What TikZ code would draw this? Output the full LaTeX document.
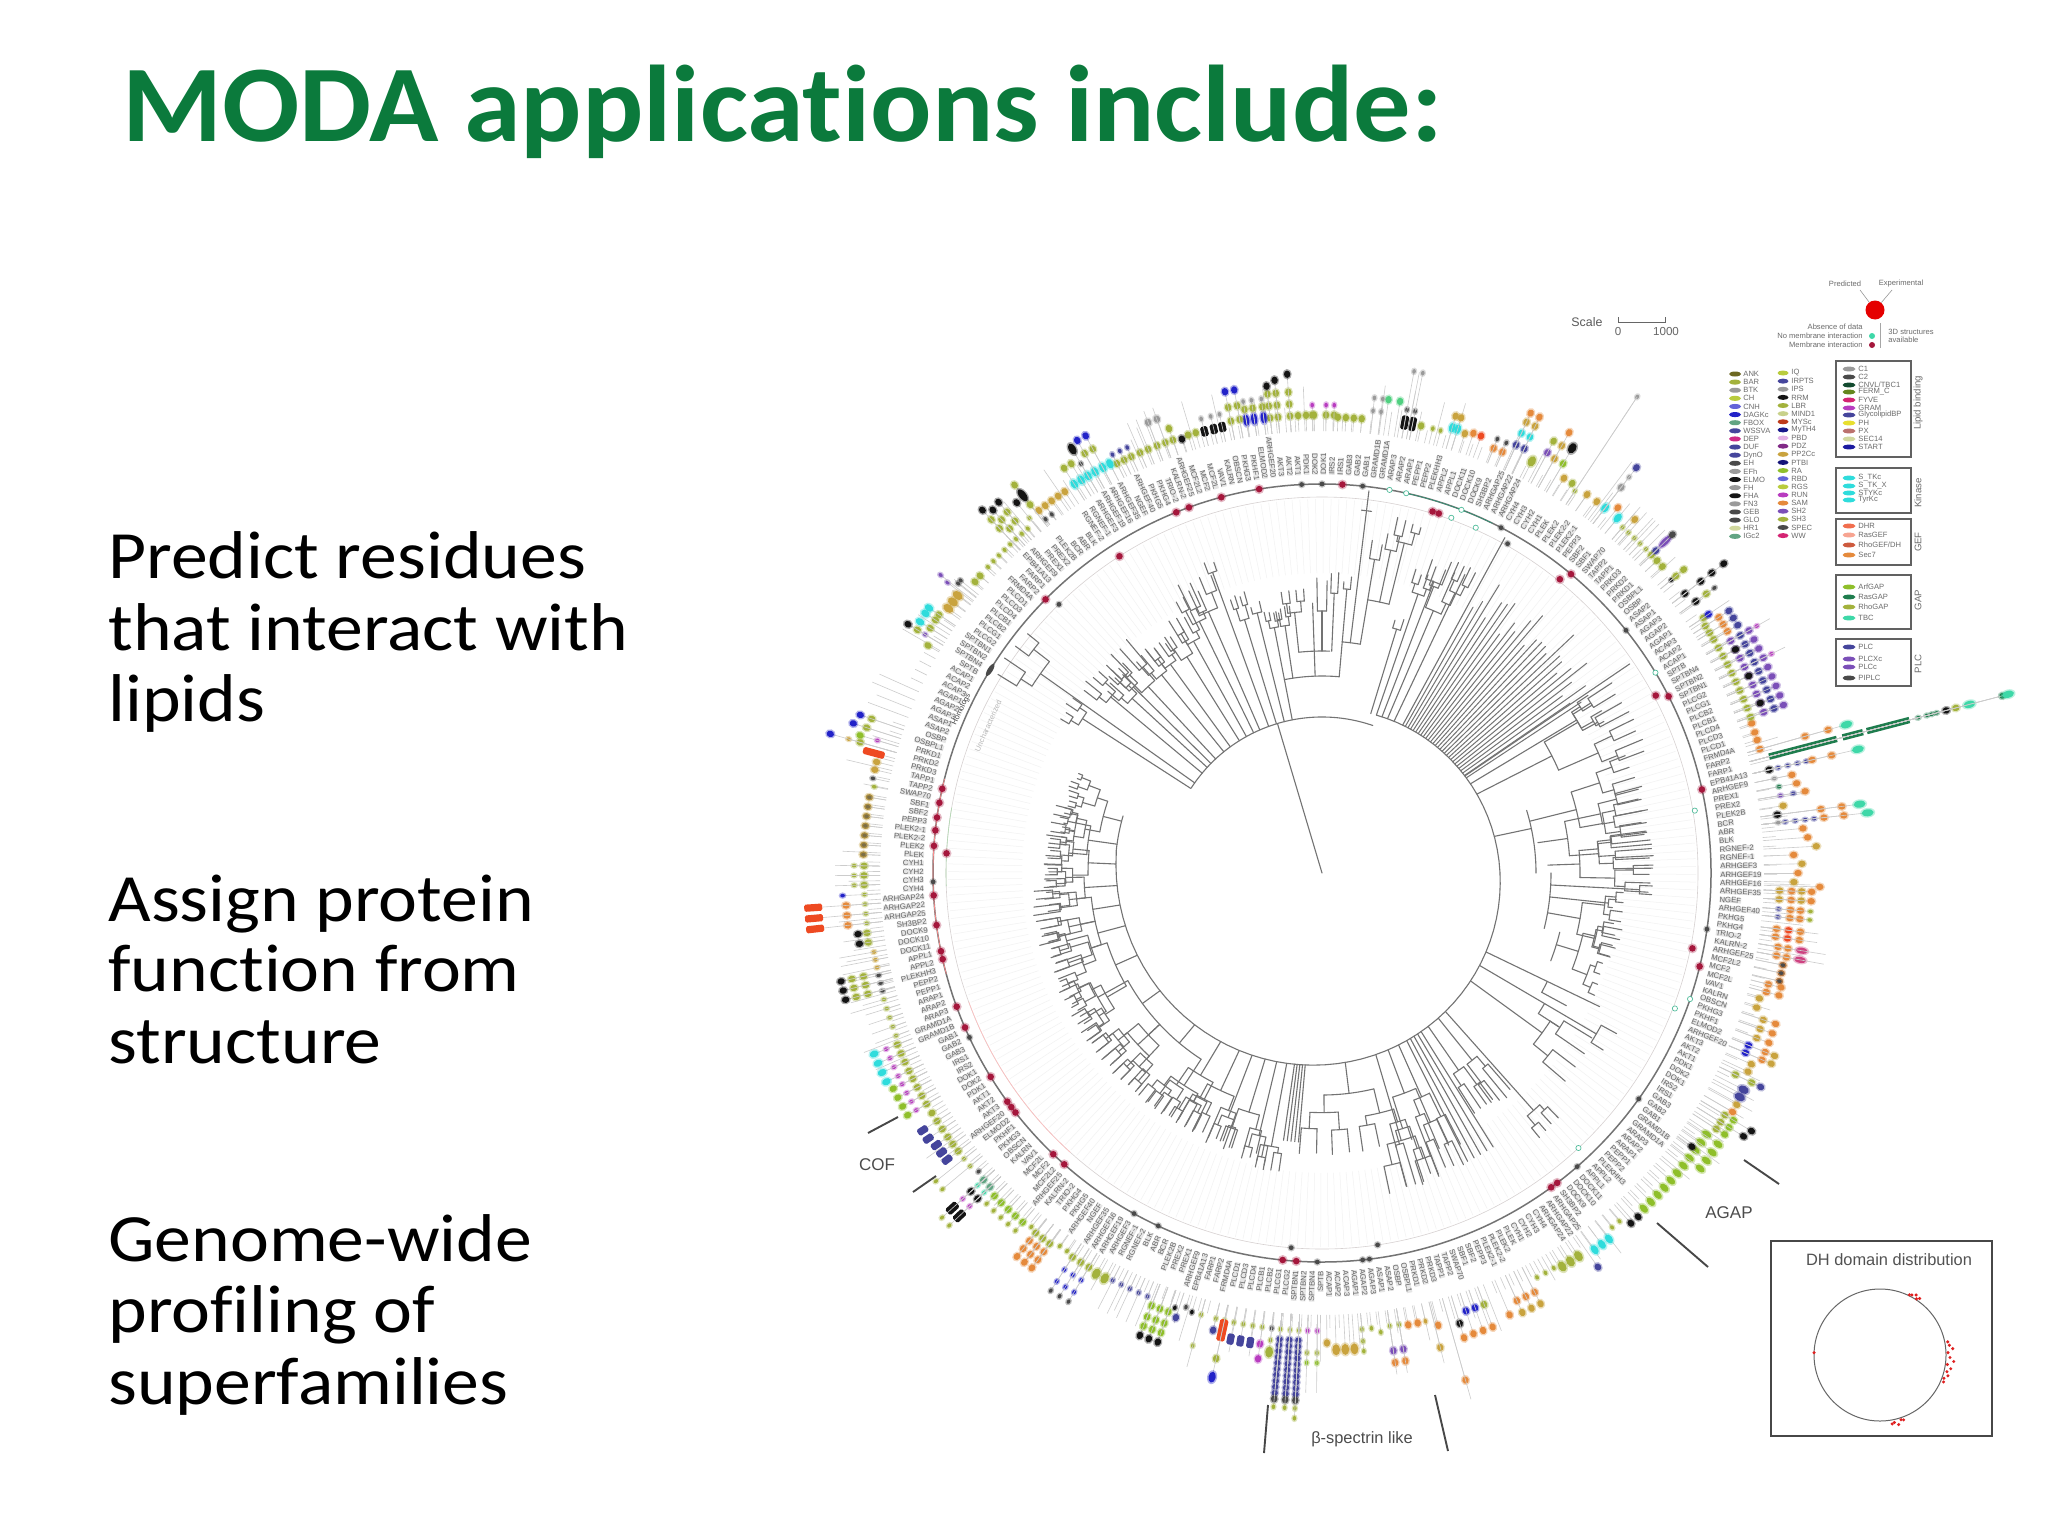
\documentclass[tikz,border=0pt]{standalone}
\usepackage{fontspec}
\setmainfont[Ligatures=NoCommon]{Carlito}
\newfontfamily\bodyf[Ligatures=NoCommon,FakeStretch=1.09]{Carlito}
\newfontfamily\titlef[Ligatures=NoCommon,FakeStretch=1.05]{Carlito}
\newfontfamily\lsans{Liberation Sans}
\usetikzlibrary{calc}
\definecolor{titlegreen}{HTML}{0B7A3C}
\definecolor{ol}{HTML}{A3B23C}\definecolor{yg}{HTML}{B9CC3E}\definecolor{tn}{HTML}{C9A33E}
\definecolor{org}{HTML}{E58A3C}\definecolor{rd}{HTML}{EE4A22}\definecolor{blk}{HTML}{141414}
\definecolor{blu}{HTML}{2222C8}\definecolor{nav}{HTML}{45459C}\definecolor{cy}{HTML}{2FDCDC}
\definecolor{tl}{HTML}{3ED8A8}\definecolor{grn}{HTML}{1F7D4E}\definecolor{bgr}{HTML}{8FBF2A}
\definecolor{mg}{HTML}{B83CC0}\definecolor{gry}{HTML}{9A9A9A}\definecolor{dkg}{HTML}{4A4A4A}
\definecolor{pur}{HTML}{7B4FB8}\definecolor{crim}{HTML}{A5173C}\definecolor{lgrn}{HTML}{50D080}
\tikzset{
 tr/.style={draw=black!55,line width=.55pt,line cap=round},
 stemln/.style={draw=black!20,line width=.3pt},
 body/.style={anchor=base west,inner sep=0,font=\bodyf\fontsize{33.8}{34}\selectfont},
 lab/.style={inner sep=0,font=\lsans\fontsize{3.9}{4}\selectfont,text=black!60,fill=black,fill opacity=.1,text opacity=1},
 leg/.style={inner sep=0,anchor=west,font=\lsans\fontsize{3.8}{4}\selectfont,text=black!58},
 big/.style={inner sep=0,font=\lsans\fontsize{8.5}{9}\selectfont,text=black!70},
 legbox/.style={draw=black!62,line width=1pt},
}
\newcommand\tarc[3]{\draw[tr] (#1:#3) arc[start angle=#1,end angle=#2,radius=#3];}
\newcommand\tln[3]{\draw[tr] (#1:#2)--(#1:#3);}
\def\clade#1#2#3#4#5{\begingroup
 \pgfmathsetmacro\cTa{#1-(#2)/2}\pgfmathsetmacro\cTb{#1+(#2)/2}
 \tarc{\cTa}{\cTb}{#3}
 \ifnum#4>0
  \pgfmathsetmacro\cRa{#3+(#5-#3)*(.22+.3*rnd)}\pgfmathsetmacro\cRb{#3+(#5-#3)*(.22+.3*rnd)}
  \pgfmathsetmacro\cSp{(#2)*.52}\pgfmathtruncatemacro\cD{#4-1}
  \tln{\cTa}{#3}{\cRa}\tln{\cTb}{#3}{\cRb}
  \edef\cNext{\noexpand\clade{\cTa}{\cSp}{\cRa}{\cD}{#5}\noexpand\clade{\cTb}{\cSp}{\cRb}{\cD}{#5}}\cNext
 \else
  \pgfmathsetmacro\cRa{#5-rnd*6}\pgfmathsetmacro\cRb{#5-rnd*6}
  \tln{\cTa}{#3}{\cRa}\tln{\cTb}{#3}{\cRb}
 \fi\endgroup}
\newcommand\br[6]{\tln{#1}{#2}{#3}\ifnum#5>-1 \clade{#1}{#4}{#3}{#5}{#6}\fi}
\newcommand\brs[5]{\pgfmathsetmacro\sB{167+.155*(#1-289)}\edef\sBB{\sB}\br{#1}{\sBB}{#2}{#3}{#4}{#5}}
\newcommand\Bl[5]{\draw[stemln] (#1:442)--(#1:#2);
 \fill[#3,opacity=.35,rotate=-(#1)] (#2,0) ellipse[x radius=#4+1.6,y radius=#5+1.4];
 \fill[#3,rotate=-(#1)] (#2,0) ellipse[x radius=#4,y radius=#5];}
\newcommand\Bar[5]{\draw[stemln] (#1:442)--(#1:#2);
 \fill[#3,rotate=-(#1),rounded corners=.8pt] ({#2-(#4)},{-(#5)}) rectangle ({#2+(#4)},{#5});}
\newcommand\B[3]{\Bl{#1}{#2}{#3}{3.7}{3.2}}
\newcommand\Bb[3]{\Bl{#1}{#2}{#3}{5.5}{3.9}}
\newcommand\Bs[3]{\Bl{#1}{#2}{#3}{2.3}{1.8}}
\newcommand\St[2]{\draw[stemln] (#1:442)--(#1:#2);}
\newcommand\Rd[3]{\fill[#3,opacity=.3] (#1:#2) circle (5);\fill[#3] (#1:#2) circle (3.3);}
\newcommand\Rg[3]{\fill[#3,opacity=.3] (#1:#2) circle (3.8);\fill[#3] (#1:#2) circle (2.4);}
\newcommand\Rh[2]{\draw[tl!70!gray,line width=.35pt,fill=white] (#1:#2) circle (2.6);}
\begin{document}
\begin{tikzpicture}[x=.5pt,y=-.5pt]
\useasboundingbox (0,0) rectangle (2048,1536);
\fill[white] (0,0) rectangle (2048,1536);
\node[anchor=base west,inner sep=0,text=titlegreen,font=\titlef\fontsize{54.5}{55}\selectfont\bfseries] (title) at (122,141) {MODA applications include:};
\node[body] (p1a) at (108,578) {Predict residues};
\node[body] (p1b) at (108,650) {that interact with};
\node[body] (p1c) at (108,721) {lipids};
\node[body] (p2a) at (108,921) {Assign protein};
\node[body] (p2b) at (108,991) {function from};
\node[body] (p2c) at (108,1063) {structure};
\node[body] (p3a) at (108,1261) {Genome-wide};
\node[body] (p3b) at (108,1332) {profiling of};
\node[body] (p3c) at (108,1404) {superfamilies};
\begin{scope}[shift={(1322,873)}]
\pgfmathsetseed{4211}
\foreach \rep in {0,1,2}{
\foreach \nm [count=\ii from 0] in {PRKD1,PRKD2,PRKD3,TAPP1,TAPP2,SWAP70,SBF1,SBF2,PEPP3,PLEK2-1,PLEK2-2,PLEK2,PLEK,CYH1,CYH2,CYH3,CYH4,ARHGAP24,ARHGAP22,ARHGAP25,SH3BP2,DOCK9,DOCK10,DOCK11,APPL1,APPL2,PLEKHH3,PEPP2,PEPP1,ARAP1,ARAP2,ARAP3,GRAMD1A,GRAMD1B,GAB1,GAB2,GAB3,IRS1,IRS2,DOK1,DOK2,PDK1,AKT1,AKT2,AKT3,ARHGEF20,ELMOD2,PKHF1,PKHG3,OBSCN,KALRN,VAV1,MCF2L,MCF2,MCF2L2,ARHGEF25,KALRN-2,TRIO-2,PKHG4,PKHG5,ARHGEF40,NGEF,ARHGEF35,ARHGEF16,ARHGEF19,ARHGEF3,RGNEF-1,RGNEF-2,BLK,ABR,BCR,PLEK2B,PREX2,PREX1,ARHGEF9,EPB41A13,FARP1,FARP2,FRMD4A,PLCD1,PLCD3,PLCD4,PLCB1,PLCB2,PLCG1,PLCG2,SPTBN1,SPTBN2,SPTBN4,SPTB,ACAP1,ACAP2,ACAP3,AGAP1,AGAP2,AGAP3,ASAP1,ASAP2,OSBP,OSBPL1}{
 \pgfmathsetmacro\th{197-1.2*(\ii+100*\rep)}
 \draw[draw=black!5,line width=.25pt] (\th:300)--(\th:374);
 \draw[stemln] (\th:442)--(\th:455);
 \pgfmathparse{rnd>.62?1:0}\ifnum\pgfmathresult=1 \pgfmathsetmacro\rq{465+rnd*28}\draw[stemln] (\th:455)--(\th:\rq);\fi
 \pgfmathparse{(\th>90 || \th<-90)?1:0}
 \ifnum\pgfmathresult=1
  \pgfmathsetmacro\rt{180-\th}\node[lab,rotate=\rt,anchor=east] (l\rep-\ii) at (\th:398) {\nm};
 \else
  \pgfmathsetmacro\rt{-\th}\node[lab,rotate=\rt,anchor=west] (l\rep-\ii) at (\th:398) {\nm};
 \fi
}}
\draw[draw=black!55,line width=.75pt] (0,0) circle (389);
\draw[draw=red!12!black!18,line width=.3pt] (0,0) circle (376);
\draw[draw=red!45,line width=.35pt] (165:389) arc[start angle=165,end angle=194,radius=389];
\draw[draw=green!50!black!30,line width=.3pt] (178:376) arc[start angle=178,end angle=190,radius=376];
\draw[draw=red!25,line width=.3pt] (132:376) arc[start angle=132,end angle=160,radius=376];
\draw[draw=tl!70!black,line width=.3pt] (282:389) arc[start angle=282,end angle=296,radius=389];
\node[inner sep=0,rotate=65,font=\lsans\fontsize{3.8}{4}\selectfont,text=black!75] (ringa) at (204.4:396) {Homologs};
\node[inner sep=0,rotate=66,font=\lsans\fontsize{3.8}{4}\selectfont,text=black!28] (ringb) at (203.8:365) {Uncharacterized};
\foreach \a/\r in {192.5/389,190.4/389,188.2/389,186.3/389,184/389,183/376,176.7/389,172.3/389,168.4/389,167.2/389,159.9/389,156.6/389,148.4/389,144/389,143/389,142/389,133.7/389,131.5/389,95.8/389,93.8/389,53.9/389,52.8/389,11.5/378,13.9/389,-12.4/389,-27/389,-28/378,-50.2/389,-51/378,-73/378,-72/378,237.4/376,224.7/389,248/389,250/389,255/389,260.7/389,273/389}{\Rd{\a}{\r}{crim}}
\foreach \a/\r in {178.7/389,155/389,118.9/389,114.9/389,94.7/376,90.7/389,84/389,83/389,81.5/376,8.3/389,35.5/389,-62.6/389,-60.6/378,-38.6/389,267/389,270/389,276/389,225.6/376,49/389}{\Rg{\a}{\r}{dkg}}
\foreach \a/\r in {-9.5/378,-31/389,18.9/389,21/378,47/376,-77.5/389,-80/389,-70/378,-69/389,-66/378}{\Rh{\a}{\r}}
\fill[dkg,rotate=-212.5] (389,-7) ellipse[x radius=2.5,y radius=7];
% tree
\pgfmathsetseed{77}
\coordinate (tc) at (0,0);
\draw[tr] (tc)--(253.4:156);
\tarc{213}{289}{156}
\draw[tr] plot[domain=289:546,samples=70,variable=\x] (\x:{167+.155*(\x-289)});
\br{212.8}{156}{285}{3}{1}{307}
\br{215.3}{156}{345}{5}{1}{384}
\br{219.8}{156}{275}{3}{1}{305}
\br{222.6}{156}{258}{3}{1}{285}
\br{224.6}{156}{265}{2.5}{1}{292}
\br{227}{156}{255}{4}{1}{305}
\br{231}{156}{255}{3}{1}{285}
\br{234}{156}{258}{3}{1}{286}
\br{238}{156}{255}{3}{1}{282}
\br{241}{156}{265}{3}{1}{295}
\br{244}{156}{280}{3}{1}{312}
\br{246.5}{156}{285}{4}{1}{322}
\br{250}{156}{320}{1.6}{0}{332}
\br{253}{156}{265}{2}{1}{293}
\br{256}{156}{268}{2}{0}{280}
\tln{259}{156}{197}
\tarc{259}{275}{197}
\br{259}{197}{250}{2}{1}{268}
\br{261.5}{197}{250}{2}{1}{270}
\tln{268}{197}{222}\tarc{264}{272}{222}
\br{264}{222}{262}{3}{1}{288}
\br{268}{222}{270}{0}{-1}{300}
\br{270}{222}{262}{2}{0}{298}
\br{272.5}{222}{280}{1.4}{0}{302}
\tln{275}{197}{232}\tarc{275}{279.5}{232}
\br{275}{232}{285}{1.4}{0}{298}
\tln{277}{232}{385}\tarc{276.2}{277.8}{365}
\tln{279.5}{232}{277}\tarc{279.5}{284}{277}
\br{279.5}{277}{318}{1.8}{0}{338}
\br{282}{277}{330}{2}{0}{348}
\br{284}{277}{340}{2.6}{1}{364}
\brs{287}{255}{1.8}{0}{268}
\brs{289}{295}{2.4}{1}{318}
\brs{291}{312}{3.2}{0}{338}
\brs{293}{285}{3.4}{1}{332}
\brs{295.4}{310}{2.2}{1}{340}
\brs{298.6}{382}{0}{-1}{382}
\foreach \t in {299.6,300.6,...,327.5}{\pgfmathsetmacro\rt{297+rnd*52}\pgfmathsetmacro\rb{167+.155*(\t-289)}\draw[tr,line width=.5pt] (\t:\rb)--(\t:\rt);}
\brs{325.8}{372}{0}{-1}{372}
\brs{329}{297}{3.6}{1}{324}
\brs{333}{258}{7}{2}{348}
\tarc{343}{360}{214}\tarc{0}{14}{229}\tarc{14}{21}{245}
\brs{348}{214}{0}{-1}{214}
\br{346}{214}{262}{8}{2}{328}
\br{352}{218}{248}{8}{2}{332}
\br{358}{226}{258}{6}{2}{332}
\br{3}{229}{318}{1.5}{0}{332}
\br{6}{229}{288}{1.6}{0}{298}
\br{10}{229}{262}{7}{2}{306}
\br{17}{245}{268}{8}{2}{300}
\brs{385.7}{308}{0}{-1}{308}\tarc{385.7}{388.5}{250}\tln{388.5}{250}{278}
\brs{390.4}{318}{3.6}{0}{336}\tarc{390.4}{393}{258}\tln{393}{258}{282}
\brs{396}{272}{6}{1}{322}
\brs{408.3}{318}{3}{1}{345}
\brs{411.3}{240}{3}{1}{291}
\brs{415.3}{240}{3}{1}{288}
\foreach \t in {418,419.3,420.6,421.9,423.2}{\brs{\t}{323}{0}{-1}{323}}
\brs{426}{245}{4}{1}{305}
\brs{429.5}{235}{6}{2}{325}
\brs{433.5}{279}{6}{1}{330}
\brs{443}{222}{13}{2}{285}
\foreach \t in {455,455.8,456.6,457.4,458.2}{\brs{\t}{270}{0}{-1}{270}}
\brs{460.5}{278}{3}{1}{303}
\brs{463.5}{270}{3}{1}{298}
\brs{467}{250}{5}{1}{292}
\brs{471}{262}{3}{1}{290}
\brs{475}{240}{7}{1}{294}
\brs{481}{236}{7}{2}{290}
\brs{490}{222}{14}{3}{290}
\brs{504}{222}{14}{3}{289}
\brs{516}{226}{12}{3}{286}
\brs{525}{232}{6}{2}{284}
\brs{531}{232}{6}{2}{292}
\brs{536.5}{238}{5}{2}{280}
\brs{542.5}{234}{6}{2}{278}
\tarc{186}{196}{207}
\br{188}{207}{236}{7}{2}{278}
\br{194.5}{207}{226}{8}{3}{268}
% beads
\B{198.9}{476}{ol}\B{198.9}{488}{blu}\B{197.7}{478}{ol}\B{197.7}{492}{blu}
\Bs{196.6}{464}{mg}\B{196.6}{482}{bgr}\B{195.8}{480}{ol}\Bs{195.8}{492}{tn}\B{195.8}{511}{blu}
\Bar{195}{464}{rd}{11}{3.6}
\B{194}{459}{tn}\B{193}{459}{tn}\Bs{191.9}{459}{dkg}\Bs{190.9}{456}{ol}
\foreach \t in {189.5,188.3,187.1,185.9,184.7,183.5,182.3}{\B{\t}{459}{tn}\Bs{\t}{459}{dkg!60!tn}}
\foreach \t in {180.9,179.7,178.5}{\B{\t}{458}{ol}\Bs{\t}{468}{ol}\St{\t}{487}}
\Bs{177.3}{458}{ol}\Bs{177.3}{480}{blu}
\foreach \t in {176.1,174.9,173.7}{\Bs{\t}{458}{ol}\B{\t}{477}{org}\Bar{\t}{510}{rd}{9}{3.6}}
\foreach \t in {172.5,171.3}{\B{\t}{459}{ol}\B{\t}{468}{blk}}
\foreach \t in {170,169,168}{\Bs{\t}{455}{tn}\St{\t}{490}}
\foreach \t in {167,166,165}{\Bs{\t}{455}{dkg}}
\foreach \t in {167.3,166.2,165.1}{\B{\t}{470}{ol}\B{\t}{482}{ol}\B{\t}{493}{blk}}
\foreach \t in {163.9,162.7,161.5,160.3,159.1}{\Bs{\t}{456}{ol}\St{\t}{478}}
\foreach \t in {158,156.8,155.6,154.4}{\B{\t}{458}{ol}\Bs{\t}{470}{mg}\Bl{\t}{483}{cy}{4.5}{3.4}}
\foreach \t in {153.3,152.1,150.9,149.7}{\B{\t}{458}{ol}\Bs{\t}{470}{mg}\B{\t}{480}{bgr}}
\B{148.4}{458}{ol}\foreach \t in {147.2,146}{\B{\t}{458}{ol}\Bar{\t}{475}{nav}{5.5}{3.6}}
\foreach \t in {144.8,143.7,142.6}{\B{\t}{458}{ol}\Bar{\t}{472}{nav}{5.5}{3.6}}
\foreach \t in {141.4,140.2}{\Bs{\t}{458}{ol}\Bs{\t}{494}{ol}}
\Bs{139}{455}{dkg}
\foreach \t in {137.8,136.6}{\B{\t}{457}{grn!70}\Bs{\t}{465}{tl}\B{\t}{474}{blk}\Bs{\t}{485}{mg}\Bar{\t}{499}{blk}{6.5}{4}\Bs{\t}{513}{ol}}
\foreach \t in {135.4,134.2,133,131.8,130.6}{\B{\t}{460}{bgr}\Bs{\t}{471}{ol}}
\Bs{129.4}{458}{ol}
\foreach \t in {128.5,127.4,126.3}{\B{\t}{460}{ol}\B{\t}{470}{org}\B{\t}{480}{org}\B{\t}{490}{org}}
\foreach \t in {125.1,124}{\Bs{\t}{456}{ol}}
\foreach \t in {123,121.8,120.6}{\B{\t}{458}{ol}\Bs{\t}{473}{blu}\Bs{\t}{487}{blu}\Bs{\t}{498}{dkg}}
\foreach \t in {119.4,118.2}{\Bb{\t}{460}{ol}}
\foreach \t in {117.2,116,114.8,113.6,112.4}{\Bs{\t}{458}{nav}\St{\t}{490}}
\foreach \t in {111.5,110.4,109.3}{\B{\t}{465}{bgr}\B{\t}{477}{bgr}\B{\t}{487}{bgr}\B{\t}{497}{blk}}
\Bs{108.7}{459}{blk}\B{108.2}{468}{nav}\Bs{107.4}{455}{dkg}\Bs{106.5}{458}{blk}
\Bs{105.3}{458}{ol}\Bs{105.3}{490}{ol}\St{105.3}{512}
\Bs{103.4}{458}{ol}\B{103.4}{470}{nav}
\Bs{102.3}{458}{ol}\Bar{102.3}{468}{rd}{11}{4.2}\B{102.3}{497}{ol}\Bl{102.3}{516}{blu}{5.5}{3.6}
\foreach \t in {101.1,99.9,98.7}{\Bs{\t}{458}{ol}\Bar{\t}{475}{nav}{5.5}{3.6}}
\Bs{97.5}{458}{ol}\B{97.5}{475}{mg}\B{97.5}{490}{mg}
\Bs{96.3}{458}{dkg}\Bs{96.3}{470}{ol}\Bb{96.3}{482}{ol}
\foreach \t in {95.2,94,92.9}{\Bs{\t}{458}{ol}
 \foreach \rr in {468,474,...,522}{\Bl{\t}{\rr}{nav}{3}{3.2}}
 \B{\t}{528}{dkg}\Bs{\t}{536}{ol}}
\Bs{92.9}{546}{ol}
\foreach \t in {91.8,90.6}{\Bs{\t}{458}{mg}\Bs{\t}{480}{ol}\Bs{\t}{490}{bgr}\St{\t}{520}}
\B{89.4}{470}{tn}\foreach \t in {88.3,87.2,86.1}{\Bb{\t}{477}{tn}}
\Bs{85}{458}{ol}\Bs{85}{470}{ol}\Bs{85}{480}{ol}\Bs{83.8}{458}{ol}\Bs{82.7}{463}{ol}
\foreach \t in {81.5,80.3}{\Bs{\t}{458}{ol}\B{\t}{483}{pur}\B{\t}{495}{org}\St{\t}{507}}
\B{79.2}{460}{org}\B{78}{460}{org}\Bs{77}{460}{tn}\B{75.6}{467}{org}\B{76}{489}{tn}\St{76}{505}
\B{74.2}{527}{org}\St{74.2}{547}\B{73}{471}{blk}\B{73}{486}{org}
\foreach \t in {71.8,70.6}{\B{\t}{461}{blu}\B{\t}{485}{org}}
\B{69.4}{461}{ol}\B{69.4}{485}{org}\B{67}{480}{org}
\foreach \t in {65.5,64.3,63.1}{\B{\t}{470}{org}\B{\t}{483}{tn}}
\foreach \t in {62,60.8,59.6}{\Bs{\t}{458}{ol}}
\foreach \t in {58.6,57.4,56.2}{\Bb{\t}{461}{ol}}
\B{55}{481}{nav}\foreach \t in {54.1,53,51.9}{\Bl{\t}{465}{cy}{5}{3.4}}
\Bs{50.7}{458}{ol}\Bs{49.5}{458}{ol}\B{48.6}{467}{blk}\B{47.4}{467}{blk}
\foreach \t in {46.2,45,...,34}{\Bl{\t}{465}{bgr}{5}{3.2}}
\foreach \t in {38,36.8,35.6,34.4}{\Bl{\t}{480}{bgr}{5}{3.2}}
\B{36.5}{460}{blk}
\foreach \t in {33,32,31}{\B{\t}{470}{ol}\B{\t}{480}{bgr}}\B{32}{497}{blk}\B{31}{501}{blk}
\B{30.2}{475}{org}\B{29.2}{475}{tn}\Bb{28.2}{474}{nav}\Bb{27.2}{474}{nav}
\B{26}{460}{ol}\B{26}{478}{ol}\B{26}{488}{nav}
\B{25}{470}{tn}\B{24}{470}{tn}
\foreach \t in {23,22}{\B{\t}{460}{blu}\B{\t}{478}{org}\B{\t}{488}{tn}}
\foreach \t in {20.8,19.6,18.4}{\B{\t}{465}{tn}\B{\t}{478}{org}}
\B{17.2}{455}{tn}\B{16}{455}{tn}
\foreach \t in {15,14}{\B{\t}{460}{org}\B{\t}{473}{org}}
\foreach \t in {13.3,12.3,11.3}{\B{\t}{470}{org}\Bs{\t}{470}{dkg}}
\foreach \t in {10.3,9.2}{\B{\t}{462}{org}\B{\t}{472}{org}\Bl{\t}{486}{mg!60!rd}{6}{3}\St{\t}{510}}
\foreach \t in {8,7}{\B{\t}{458}{org}\B{\t}{470}{rd}\B{\t}{482}{org}\St{\t}{500}}
\foreach \t in {5.5,4.5}{\Bs{\t}{458}{nav}\B{\t}{470}{org}\B{\t}{480}{org}\Bs{\t}{490}{ol}}
\foreach \t in {3.3,2.2}{\B{\t}{458}{tn}\B{\t}{470}{org}\B{\t}{480}{tn}\B{\t}{490}{org}}
\B{1.6}{498}{org}
\B{1.1}{472}{tn}\B{0}{476}{org}\B{-1.1}{480}{tn}\B{-2.2}{472}{org}
\B{-3.1}{495}{tn}\B{-4.2}{487}{org}\B{-5.3}{483}{org}
\foreach \r in {466,476,486,495}{\Bs{-6.3}{\r}{nav}}\B{-6.3}{505}{org}\B{-6.3}{525}{org}\Bl{-6.3}{549}{tl}{6}{3.5}\Bs{-6.3}{459}{gry}
\B{-7.3}{459}{blk}\B{-7.3}{503}{org}\B{-7.3}{524}{org}\Bl{-7.3}{542}{tl}{6}{3.5}
\B{-8.3}{466}{tn}
\Bs{-9.6}{465}{pur}\Bs{-9.6}{478}{nav}\B{-9.6}{490}{org}\Bs{-10.7}{465}{grn}\B{-10.7}{483}{org}\Bs{-11.8}{462}{gry}\B{-11.8}{480}{org}
\B{-13}{459}{blk}\foreach \r in {468,478,488,497}{\Bs{-13}{\r}{nav}}\B{-13}{503}{org}\B{-13}{523}{org}\Bl{-13}{550}{tl}{6}{3.5}
\B{-15.8}{455}{org}\B{-15.8}{502}{org}\B{-15.8}{526}{org}\Bl{-15.8}{545}{tl}{6}{3.5}
\B{-17}{455}{org}\B{-18}{455}{org}\B{-19.2}{455}{org}
\draw[stemln] (-14.6:442)--(-14.6:707);
\fill[grn,rotate=14.6] (462,-3.2) rectangle (532,3.2);
\fill[grn,rotate=14.6] (538,-3.2) rectangle (559,3.2);
\fill[grn,rotate=14.6] (563,-3.2) rectangle (607,3.2);
\foreach \r in {616,625,630,635}{\Bs{-14.6}{\r}{grn}}
\B{-14.6}{645}{blk}\B{-14.6}{655}{ol}\Bl{-14.6}{669}{tl}{6}{3.5}\Bl{-14.6}{703}{grn}{3}{3}\Bl{-14.6}{709}{tl}{6}{3.5}
\foreach \t in {-20,-21.2,-22.4,-23.6,-24.8,-26,-27.2,-28.4,-29.6}{\B{\t}{456}{ol}\B{\t}{470}{pur}\B{\t}{481}{nav}\B{\t}{491}{pur}}
\foreach \t in {-21.2,-24.8,-28.4}{\B{\t}{470}{blk}}
\foreach \t in {-26,-29.6}{\Bs{\t}{500}{mg}\St{\t}{515}}
\foreach \t in {-30.8,-31.8,-32.8}{\B{\t}{456}{ol}\B{\t}{472}{org}\B{\t}{484}{nav}}
\B{-33.8}{459}{ol}\B{-33.8}{465}{blu}\St{-33.8}{490}
\B{-36}{462}{blk}\B{-36}{475}{ol}\Bs{-36}{485}{dkg}
\B{-37.6}{458}{blk}\B{-37.6}{478}{blk}\B{-37.6}{492}{blk}\B{-37.6}{507}{blk}
\Bs{-40}{456}{blk}\B{-40}{462}{ol}\B{-40}{472}{ol}
\B{-42}{458}{ol}\B{-43}{458}{ol}\B{-44}{458}{ol}\B{-44}{464}{nav}\Bl{-44}{477}{pur}{8}{3}\B{-44}{487}{dkg}
\foreach \t in {-45,-46,-47,-48,-49}{\Bs{\t}{458}{ol}\St{\t}{485}}
\B{-48.5}{472}{tn}\Bl{-50.2}{462}{cy}{5}{3.4}\B{-51}{470}{org}\Bl{-52.2}{462}{cy}{5}{3.4}
\B{-52.2}{488}{gry}\Bs{-52.2}{501}{gry}\B{-52.2}{513}{nav}
\B{-53.5}{462}{tn}\B{-55}{462}{tn}\Bs{-56.5}{458}{ol}\Bs{-56.5}{571}{gry}
\B{-57.3}{463}{ol}\B{-58.5}{463}{tn}\B{-59.5}{475}{bgr}\Bb{-59.5}{493}{blk}
\B{-60.7}{475}{tn}\B{-60.7}{490}{tn}\B{-60.7}{505}{org}\B{-61.8}{477}{pur}\B{-61.8}{490}{ol}
\Bb{-63}{462}{ol}
\foreach \t in {-64.5,-65.6}{\B{\t}{470}{nav}\B{\t}{483}{cy}\B{\t}{495}{tn}\B{\t}{505}{org}}
\foreach \t in {-66.8,-68}{\B{\t}{458}{org}\Bs{\t}{468}{dkg}}
\B{-70}{465}{rd}\B{-71}{465}{org}\B{-72}{462}{tn}
\foreach \t in {-73,-73.7}{\Bl{\t}{464}{cy}{5}{3.2}\B{\t}{476}{tn}}
\Bs{-75}{458}{ol}\Bs{-76}{458}{ol}\B{-77.5}{458}{ol}
\foreach \t in {-78.6,-79.6}{\Bar{\t}{458}{blk}{7}{3.6}\Bs{\t}{471}{dkg}\Bs{\t}{510}{gry}}
\B{-80.6}{478}{lgrn}\B{-82}{478}{lgrn}\Bs{-82.7}{478}{gry}\Bs{-82.7}{465}{gry}\Bs{-83.7}{478}{gry}\Bs{-83.7}{465}{gry}
\foreach \t in {-85,-86,-87,-88}{\B{\t}{456}{ol}}
\foreach \t in {-88.5,-89.5,-91.2}{\B{\t}{458}{ol}\Bs{\t}{468}{mg}}
\foreach \t in {267,268,269}{\B{\t}{458}{ol}}
\foreach \t/\e in {266/500,264.5/495,263.5/490}{\B{\t}{458}{ol}\B{\t}{470}{ol}\B{\t}{482}{ol}\B{\t}{\e}{blk}}
\foreach \t in {262.7,261.5,260.5}{\Bl{\t}{459}{blu}{6}{3}\B{\t}{470}{ol}\Bs{\t}{478}{gry}}
\foreach \t in {259.7,258.6}{\B{\t}{461}{ol}\B{\t}{475}{ol}\B{\t}{491}{blu}}
\foreach \t in {257.4,256.3,255.1}{\Bar{\t}{457}{blk}{5}{3.6}\Bs{\t}{470}{gry}}
\B{254}{458}{ol}\B{253}{458}{ol}\B{252.1}{456}{blk}\B{251}{458}{ol}\B{251}{470}{ol}
\foreach \t in {250,248.9}{\B{\t}{458}{ol}\B{\t}{483}{gry}\St{\t}{495}}
\foreach \t in {247.7,246.6}{\B{\t}{458}{ol}\St{\t}{490}}
\foreach \t in {245.4,244.4,243.4}{\B{\t}{458}{ol}\Bs{\t}{468}{nav}}
\foreach \t in {242.6,241.6,240.5,239.5,238.5,237.5}{\Bl{\t}{461}{cy}{5}{3.4}}
\foreach \t in {241.6,240.5}{\B{\t}{482}{ol}\B{\t}{497}{blu}}
\Bs{239.5}{475}{dkg}\Bl{239.5}{492}{blk}{6}{3.5}\B{238.5}{480}{ol}\B{237.5}{480}{ol}
\foreach \t in {236,235,234,233,232}{\B{\t}{460}{tn}}
\Bs{233}{449}{dkg}\Bs{232}{449}{dkg}
\B{231.6}{495}{ol}\Bl{231.6}{482}{blk}{7}{3.5}\B{231.6}{470}{ol}\Bs{230.5}{460}{ol}\B{230.5}{480}{blk}
\foreach \t in {229.5,228.5,227.5,226.5,225.5,224.5,223.5,222.5}{\Bs{\t}{453}{ol}}
\foreach \t/\e in {228.9/492,227.8/490,226.9/497}{\pgfmathsetmacro\ea{\e-25}\pgfmathsetmacro\eb{\e-13}\B{\t}{\ea}{ol}\B{\t}{\eb}{ol}\B{\t}{\e}{blk}}
\B{221}{453}{ol}\B{220}{453}{ol}\Bs{219}{465}{dkg}\Bs{218.5}{465}{dkg}\Bs{217.8}{474}{pur}\Bs{218}{484}{pur}
\foreach \t in {217.3,216.3,215.3}{\Bb{\t}{458}{tn}}
\foreach \t in {214,213.2,212}{\B{\t}{462}{ol}\Bl{\t}{474}{cy}{4.5}{3.4}}
\Bs{211}{463}{pur}\B{211}{472}{ol}\B{211}{483}{blk}\B{210}{455}{ol}
\St{-53}{515}\St{-56.5}{571}\St{-79}{510}
\end{scope}
% annotations
\node[big] (cof) at (877,1165) {COF};
\node[big] (agap) at (1729,1213) {AGAP};
\node[big,font=\lsans\fontsize{8.2}{9}\selectfont] (bsp) at (1362,1439) {β-spectrin like};
\coordinate (c1a) at (868,1133);\coordinate (c1b) at (898,1117);
\coordinate (c2a) at (913,1192);\coordinate (c2b) at (936,1176);
\coordinate (a1a) at (1744,1160);\coordinate (a1b) at (1779,1184);
\coordinate (a2a) at (1657,1223);\coordinate (a2b) at (1708,1267);
\coordinate (s1a) at (1268,1405);\coordinate (s1b) at (1264,1453);
\coordinate (s2a) at (1435,1395);\coordinate (s2b) at (1448,1451);
\foreach \p/\q in {c1a/c1b,c2a/c2b,a1a/a1b,a2a/a2b,s1a/s1b,s2a/s2b}{\draw[draw=black!72,line width=.95pt] (\p)--(\q);}
\node[leg,font=\lsans\fontsize{6.2}{7}\selectfont,text=black!65] (scl) at (1571,322) {Scale};
\coordinate (sa) at (1618,322);\coordinate (sb) at (1665,322);
\draw[draw=black!60,line width=.5pt] ($(sa)+(0,-5)$)--(sa)--(sb)--($(sb)+(0,-5)$);
\node[inner sep=0,font=\lsans\fontsize{5.8}{6}\selectfont,text=black!60] (s0) at (1618,332) {0};
\node[inner sep=0,font=\lsans\fontsize{5.8}{6}\selectfont,text=black!60] (s1) at (1666,332) {1000};
\node[circle,fill=red!90!black,minimum size=9.5pt,inner sep=0] (redd) at (1875,310) {};
\node[leg,anchor=center] (pre) at (1845,284) {Predicted};
\node[leg,anchor=center] (exp) at (1901,284) {Experimental};
\draw[draw=black!40,line width=.3pt] (1860,290)--(redd);
\draw[draw=black!40,line width=.3pt] (1892,290)--(redd);
\node[leg,anchor=east] (k1) at (1863,327) {Absence of data};
\node[leg,anchor=east] (k2) at (1863,336) {No membrane interaction};
\node[leg,anchor=east] (k3) at (1863,345) {Membrane interaction};
\fill[tl] (1872,336) circle (3);\fill[crim] (1872,345) circle (3);
\draw[draw=black!35,line width=.3pt] (1880,323)--(1880,348);
\node[leg] (k4) at (1888,332) {3D structures};
\node[leg] (k5) at (1888,340) {available};
\foreach \nm/\cc [count=\i from 0] in {ANK/olive!70!black,BAR/ol,BTK/gry,CH/yg,CNH/blu!70,DAGKc/blu,FBOX/grn!70,WSSVA/nav,DEP/mg!70!red,DUF/nav,DynO/nav,EH/dkg,EFh/gry,ELMO/blk,FH/gry,FHA/blk,FN3/gry,GEB/dkg,GLO/dkg,HR1/ol!50,IGc2/grn!70}{
 \pgfmathsetmacro\yy{374+8.117*\i}
 \fill[\cc] (1735,\yy) ellipse[x radius=6,y radius=2.5];
 \node[leg] (ca\i) at (1743,\yy) {\nm};}
\foreach \nm/\cc [count=\i from 0] in {IQ/yg,IRPTS/nav,IPS/gry,RRM/blk,LBR/ol,MIND1/ol!60,MYSc/rd!80!black,MyTH4/blu!70!black,PBD/mg!40,PDZ/mg!70!black,PP2Cc/tn,PTBI/blu!60!black,RA/bgr,RBD/blu!70,RGS/yg,RUN/mg,SAM/org,SH2/pur,SH3/ol,SPEC/dkg,WW/mg!60!red}{
 \pgfmathsetmacro\yy{373+8.13*\i}
 \fill[\cc] (1783,\yy) ellipse[x radius=5.5,y radius=2.5];
 \node[leg] (cb\i) at (1791,\yy) {\nm};}
\draw[legbox] (1836,361) rectangle (1911,457);
\draw[legbox] (1836,468) rectangle (1911,513);
\draw[legbox] (1836,519) rectangle (1911,565);
\draw[legbox] (1836,575) rectangle (1911,629);
\draw[legbox] (1836,639) rectangle (1911,686);
\foreach \nm/\yy/\cc [count=\i] in {C1/369/gry,C2/377/dkg,CNVL\slash TBC1/385/grn!60!black,FERM\_C/392/bgr!70!black,FYVE/400/mg!60!red,GRAM/408/mg,GlycolipidBP/415/nav,PH/423/yellow!80!gray,PX/431/org!60!pur,SEC14/439/ol!50,START/447/blu!80!black,S\_TKc/478/cy,S\_TK\_X/486/cy,STYKc/493/cy,TyrKc/500/cy,DHR/526/rd!80,RasGEF/535/rd!50,RhoGEF\slash DH/545/rd!70!gray,Sec7/555/org,ArfGAP/587/bgr,RasGAP/597/grn,RhoGAP/607/ol,TBC/618/tl,PLC/647/nav,PLCXc/659/pur,PLCc/667/pur,PIPLC/678/dkg}{
 \fill[\cc] (1849,\yy) ellipse[x radius=6.5,y radius=2.4];
 \node[leg] (bx\i) at (1858,\yy) {\nm};}
\foreach \nm/\yy [count=\i] in {Lipid binding/403,Kinase/493,GEF/542,GAP/600,PLC/664}{
 \node[leg,anchor=center,rotate=90,font=\lsans\fontsize{4.8}{5}\selectfont] (sd\i) at (1918,\yy) {\nm};}
\draw[draw=black!72,line width=.9pt] (1771,1241) rectangle (1992,1436);
\node[inner sep=0,font=\lsans\fontsize{8.2}{9}\selectfont,text=black!68] (dh) at (1889,1260) {DH domain distribution};
\begin{scope}[shift={(1880,1355)}]
\draw[draw=black!60,line width=.5pt] (0,0) circle (66);
\foreach \a/\r in {-62/68,-59/70,-64/67,-57/67,-55/69,-8/70,-5/73,-2/68,2/70,5/74,8/68,11/72,14/69,17/71,20/68,23/69,-11/69,78/69,75/72,72/68,80/70,70/69,-178/66}{
 \fill[red!75!gray] (\a:\r) circle (1.7);}
\end{scope}
\end{tikzpicture}
\end{document}
